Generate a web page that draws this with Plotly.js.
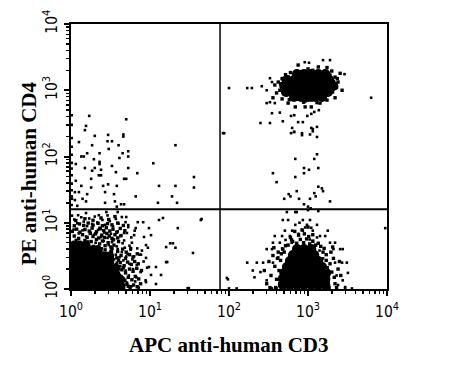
<!DOCTYPE html>
<html><head><meta charset="utf-8">
<script src="https://cdn.plot.ly/plotly-3.0.1.min.js"></script>
<style>html,body{margin:0;padding:0;background:#fff;}#chart{width:449px;height:377px;}</style>
</head><body><div id="chart"></div>
<script>
// ---- axis ticks ----
const decadeVals = [1, 10, 100, 1000, 10000];
const decadeText = ['10<sup>0</sup>', '10<sup>1</sup>', '10<sup>2</sup>', '10<sup>3</sup>', '10<sup>4</sup>'];
const minorVals = [2,3,4,5,6,7,8,9,20,30,40,50,60,70,80,90,200,300,400,500,600,700,800,900,2000,3000,4000,5000,6000,7000,8000,9000];
const xTitle = 'APC anti-human CD3';
const yTitle = 'PE anti-human CD4';

// ---- quadrant gates ----
const gateCD3 = 77;   // APC CD3 threshold
const gateCD4 = 16;   // PE CD4 threshold

// ---- dense cores (CD3, CD4) ----
const lowerLeftCore = [
 [1.09,1.11],[1.3,1.11],[1.55,1.11],[1.85,1.11],[2.2,1.11],[2.6,1.11],[3.1,1.11],[3.7,1.11],[4.3,1.11],
 [1.09,1.37],[1.3,1.37],[1.55,1.37],[1.85,1.37],[2.2,1.37],[2.6,1.37],[3.1,1.37],[3.7,1.37],[4.3,1.37],
 [1.09,1.68],[1.3,1.68],[1.55,1.68],[1.85,1.68],[2.2,1.68],[2.6,1.68],[3.1,1.68],[3.7,1.68],
 [1.09,2.07],[1.3,2.07],[1.55,2.07],[1.85,2.07],[2.2,2.07],[2.6,2.07],[3.1,2.07],[3.7,2.07],
 [1.09,2.55],[1.3,2.55],[1.55,2.55],[1.85,2.55],[2.2,2.55],[2.6,2.55],[3.1,2.55],
 [1.09,3.15],[1.3,3.15],[1.55,3.15],[1.85,3.15],[2.2,3.15],[2.6,3.15],[3.1,3.15],
 [1.09,3.9],[1.3,3.9],[1.55,3.9],[1.85,3.9],[2.2,3.9],
 [1.09,4.6],[1.3,4.6],[1.55,4.6]
];
const lowerRightCore = [
 [480,1.15],[590,1.15],[725,1.15],[890,1.15],[1100,1.15],[1350,1.15],[1660,1.15],
 [480,1.42],[590,1.42],[725,1.42],[890,1.42],[1100,1.42],[1350,1.42],[1660,1.42],
 [500,1.74],[600,1.74],[740,1.74],[910,1.74],[1120,1.74],[1380,1.74],[1700,1.74],
 [540,2.15],[665,2.15],[815,2.15],[1000,2.15],[1230,2.15],[1510,2.15],
 [590,2.65],[725,2.65],[890,2.65],[1100,2.65],[1350,2.65],
 [645,3.26],[790,3.26],[970,3.26],[1200,3.26],
 [725,4.0],[890,4.0],[1100,4.0]
];
const upperRightCore = [
 [725,1760],[890,1760],[1100,1760],[1350,1760],[1660,1760],
 [540,1430],[665,1430],[815,1430],[1000,1430],[1230,1430],[1510,1430],[1860,1430],
 [500,1160],[600,1160],[740,1160],[910,1160],[1120,1160],[1380,1160],[1700,1160],[2090,1160],
 [525,940],[645,940],[790,940],[970,940],[1200,940],[1460,940],[1790,940],
 [665,790],[815,790],[1000,790],[1230,790],[1510,790]
];

// ---- speckled rims around the cores (CD3, CD4) ----
const lowerLeftRim = [
 [1.05,4.6],[1.2,5.1],[1.35,4.5],[1.5,5.4],[1.65,4.7],[1.8,5.2],[1.95,4.4],[2.1,5.6],[2.3,4.8],[2.5,5.3],[2.7,4.5],[2.95,5.0],[3.2,4.3],[3.4,5.5],
 [1.1,6.3],[1.25,5.8],[1.4,6.6],[1.6,6.0],[1.75,6.9],[1.9,6.2],[2.05,6.8],[2.25,5.9],[2.45,6.5],[2.65,6.0],[2.85,6.9],[3.05,6.3],[3.3,5.8],[3.6,6.6],[3.9,5.9],[4.3,6.4],
 [1.04,7.4],[1.18,8.0],[1.3,7.2],[1.5,7.9],[1.7,7.5],[1.85,8.3],[2.1,7.3],[2.35,8.1],[2.6,7.6],[2.8,8.4],[3.1,7.5],[3.4,8.0],[3.8,7.2],[4.2,8.2],[4.8,7.6],
 [1.1,9.0],[1.28,9.6],[1.45,9.1],[1.65,9.9],[1.9,9.2],[2.2,9.8],[2.5,9.0],[2.9,9.7],[3.3,9.3],[3.9,9.9],[4.6,9.1],
 [1.15,10.8],[1.5,11.5],[1.9,10.9],[2.4,11.8],[3.0,11.2],[3.6,12.4],
 [3.7,1.05],[4.1,1.2],[4.6,1.08],[5.1,1.18],[5.6,1.04],[6.2,1.15],[6.9,1.08],[7.6,1.2],
 [3.8,1.4],[4.3,1.55],[4.8,1.35],[5.3,1.5],[5.9,1.38],[6.5,1.55],[7.2,1.42],
 [3.9,1.8],[4.4,1.95],[4.9,1.75],[5.5,2.0],[6.1,1.85],[6.8,2.05],[7.8,1.9],
 [3.7,2.3],[4.2,2.5],[4.7,2.25],[5.2,2.55],[5.8,2.35],[6.4,2.6],[7.1,2.4],
 [3.8,2.95],[4.3,3.2],[4.9,2.9],[5.5,3.3],[6.1,3.05],[6.9,3.4],
 [3.2,3.7],[3.9,3.7],[4.5,4.0],[5.0,3.6],[5.7,4.1],[3.3,4.1],[2.7,3.9],[2.4,3.6],[2.9,3.3],
 [2.0,4.0],[2.2,4.3],[1.6,4.2],[3.5,4.6],[4.0,5.2],[4.4,1.3],[5.3,1.1],[4.1,1.6],[4.6,2.1],[3.6,2.0],[4.0,2.7]
];
const lowerRightRim = [
 [300,1.2],[340,1.6],[380,2.2],[320,2.6],[360,3.2],[400,1.4],[410,2.9],[280,1.9],[370,4.2],[420,3.6],
 [390,1.05],[330,1.05],[430,1.9],[450,2.7],[460,3.4],[440,1.2],[480,4.0],[500,3.6],[520,4.5],
 [1800,1.3],[2000,1.8],[2200,1.2],[1900,2.4],[2100,2.9],[1700,3.3],[2400,2.0],[2600,1.6],[1600,4.1],[1950,3.6],
 [2300,1.05],[1850,1.05],[2500,2.6],[2050,4.3],[1750,2.1],[2150,1.5],[1700,2.7],[1550,3.6],[1450,4.4],[1350,4.9],
 [560,4.6],[640,5.2],[720,4.9],[800,5.6],[880,5.0],[960,5.7],[1050,4.8],[1150,5.3],[1250,4.6],
 [600,6.0],[760,6.5],[900,6.8],[1020,6.2],[680,7.4],[840,7.8],[1150,6.6],[1000,8.6],[620,5.5]
];
const upperRightRim = [
 [440,1000],[540,850],[630,770],[750,740],[920,690],[1100,710],[1420,790],[1740,850],[2050,940],[2300,1100],
 [2400,1330],[2200,1580],[1900,1700],[1650,1950],[1300,1900],[1000,2100],[830,1900],[690,1800],[560,1580],[480,1480],
 [420,1330],[380,1200],[400,910],[360,770],[470,740],[560,640],[690,560],[920,560],[1100,560],[1420,640],
 [1740,710],[2200,770],[2700,1000],[2550,1800],[750,2400],[1350,2250],[1740,2200],
 [450,1250],[470,1500],[520,1720],[600,1850],[2100,1350],[2350,1500],[2000,1950],[1150,2000],[880,660],[1300,650],[580,720]
];

// ---- scattered events (CD3, CD4) ----
const lowerLeftDots = [
 [1.03,12.8],[1.1,11.2],[1.2,9.8],[1.35,12.1],[1.45,10.4],[1.6,8.9],[1.7,11.6],[1.85,9.6],[2.0,12.4],[2.15,10.1],
 [2.3,8.4],[2.5,11.0],[2.7,9.3],[2.9,12.9],[3.1,10.6],[3.4,8.8],[3.7,11.4],[4.0,9.7],[4.4,12.2],[4.9,10.2],
 [5.3,8.6],[1.08,7.9],[1.25,6.9],[1.4,7.7],[1.55,6.2],[1.75,7.3],[1.95,6.6],[2.2,7.8],[2.4,6.1],[2.65,7.1],
 [2.9,5.9],[3.2,6.8],[3.5,5.6],[3.9,7.4],[4.2,6.3],[4.7,5.4],[5.1,7.0],[5.8,6.0],[6.4,7.6],[1.15,5.5],
 [1.65,5.2],[2.05,5.0],[2.6,5.3],[3.0,4.6],[3.3,5.1],[3.8,4.4],[4.5,4.9],[1.9,4.3],[2.45,4.1],[5.5,4.5],
 [3.9,4.0],[4.4,3.6],[4.8,4.2],[5.2,3.4],[5.7,3.9],[6.3,3.1],[4.1,3.0],[4.6,2.7],[5.0,3.1],[5.5,2.4],
 [6.0,2.8],[6.8,2.3],[7.4,3.3],[3.8,2.5],[4.2,2.2],[4.9,1.9],[5.4,1.6],[6.1,2.0],[6.7,1.5],[7.6,1.8],
 [8.3,2.6],[3.9,1.7],[4.5,1.4],[5.1,1.25],[5.8,1.1],[6.5,1.3],[7.2,1.05],[8.8,1.35],[4.0,1.05],[4.7,1.0],
 [3.7,3.3],[3.5,2.8],[3.3,3.7],[2.8,3.5],[6.9,4.1],[7.9,3.8],[9.2,2.1],[5.9,5.0],[4.0,1.2],
 [8.9,4.6],[9.4,4.2],[7.7,3.3],[8.9,2.95],[9.7,2.15],[16,2.55],[11.9,2.15],[10.3,1.63],[13.8,1.63],[8.9,1.27],
 [11.9,1.19],[31,1.03],[16,4.3],[19.5,4.9],[21,4.2],[35,3.5],[5.3,9.2],[6.6,8.3],[9.7,8.3],[22.5,8.3],
 [4.7,7.0],[6.3,6.5],[8.4,6.1],[10.3,6.5],[1.23,13],[1.55,14],[2.25,13],[2.8,14.5],[3.9,14.5],[5.0,12.2],
 [7.0,10.2],[8.2,10.2],[14.6,11.8],[13,11],[44,11],[45,11.4],[16.5,2.55],[30,1.03],[97,1.4],[18,4.9]
];
const upperLeftDots = [
 [1.7,410],[5.0,365],[1.55,290],[1.5,250],[2.0,205],[2.95,212],[4.6,215],[4.6,200],[2.9,170],[3.3,170],
 [1.26,165],[1.85,148],[4.0,148],[21,148],[3.0,130],[5.3,120],[2.3,112],[4.5,112],[1.6,112],[1.35,100],
 [1.45,100],[5.3,100],[1.95,91],[2.3,83],[4.1,95],[11,79],[1.15,77],[2.3,77],[3.3,72],[1.5,67],
 [2.0,67],[5.3,67],[1.85,61],[2.4,63],[6.9,56],[3.7,58],[2.25,52],[2.4,52],[1.8,46],[4.7,46],
 [5.0,46],[36,49],[1.15,43],[2.95,38],[1.35,36],[1.8,34],[2.55,36],[3.8,36],[13,36],[21,36],
 [36,34],[1.12,29],[1.26,29],[2.7,29],[3.5,27],[1.6,27],[6.6,25],[19,25],[1.4,23],[1.03,23],
 [1.12,22],[1.55,21],[2.7,20],[3.6,21],[4.3,19],[4.7,19],[12.6,20],[22,20],[1.2,18],[3.8,17.5],
 [1.02,18.5],[1.02,25],[1.02,31],[1.02,39],[1.02,52],[1.02,66],[1.02,80],[1.02,106],[1.02,140],[1.02,190],
 [1.02,300],[1.02,420]
];
const lowerRightDots = [
 [540,14.5],[690,14.5],[720,14.5],[1000,15.5],[1350,15],[480,11],[560,11],[860,11],[1060,11],[690,9.3],
 [970,9.3],[1300,9.3],[510,7.6],[630,7.6],[860,7.6],[1150,7.6],[1780,7.6],[380,6.3],[470,6.3],[590,6.3],
 [1420,6.3],[1650,6.3],[360,5],[440,5],[1900,5],[2200,5],[300,4],[350,4],[2100,4],[2550,4],
 [2750,4],[225,2.5],[270,2.5],[360,2.5],[2200,2.5],[2700,2.5],[3100,2.5],[170,2.5],[200,1.9],[250,1.8],
 [94,1.47],[210,1.5],[300,1.35],[2300,1.6],[2750,1.35],[3200,1.75],[2400,1.15],[2950,1.07],[100,1.02],[125,1.02],
 [350,1.02],[400,1.02],[2950,1.02],[3600,1.02],[9500,8.3],
 [520,5.5],[760,6.8],[1050,5.6],[1250,4.6],[1400,3.8],[1550,2.9],[470,4.1],[420,3.0],[1300,6.0],[920,8.5],
 [620,5.0],[1150,5.2],[780,10],[1100,8.4]
];
const middleDots = [
 [610,225],[665,235],[840,225],[1150,240],[1300,197],[1300,108],[690,92],[1200,92],[890,67],[1350,67],
 [1030,63],[890,56],[360,56],[400,41],[690,49],[720,30],[1350,35],[1500,33],[1550,30],[1200,28],
 [1250,25],[570,27],[600,25],[770,23],[500,23],[1060,23],[1900,21],[890,19],[1000,17.5],[1080,16.5],
 [87,225],[84,225]
];
const upperRightDots = [
 [100,1080],[170,1080],[195,1080],[260,1150],[330,1520],[350,1330],[300,1000],[910,2650],[1030,2600],[1550,2850],
 [1900,2850],[2900,1750],[6300,770],[300,640],[330,660],[380,640],[350,450],[440,460],[250,320],[330,320],
 [480,340],[610,410],[670,420],[750,330],[860,330],[980,410],[1100,440],[1200,470],[1370,500],[630,270],
 [670,235],[1100,270],[1150,260],[1300,280],[840,210],[1060,215]
];

function xs(a){ return a.map(p => p[0]); }
function ys(a){ return a.map(p => p[1]); }
function pts(a, sym, s){
  return {type:'scatter', mode:'markers', x:xs(a), y:ys(a),
    marker:{symbol:sym, size:s, color:'#000', line:{width:0}}, hoverinfo:'skip', showlegend:false};
}

const data = [
  pts(lowerLeftCore, 'circle', 9), pts(lowerRightCore, 'circle', 10), pts(upperRightCore, 'circle', 10),
  pts(lowerLeftRim, 'square', 3.4), pts(lowerRightRim, 'square', 3.4), pts(upperRightRim, 'square', 3.4),
  pts(lowerLeftDots, 'square', 2.6), pts(upperLeftDots, 'square', 2.6), pts(lowerRightDots, 'square', 2.6),
  pts(middleDots, 'square', 2.6), pts(upperRightDots, 'square', 2.6),
  {type:'scatter', mode:'lines', x:[gateCD3, gateCD3], y:[1, 10000], line:{color:'#000', width:1.5}, hoverinfo:'skip', showlegend:false},
  {type:'scatter', mode:'lines', x:[1, 10000], y:[gateCD4, gateCD4], line:{color:'#000', width:2}, hoverinfo:'skip', showlegend:false}
];

const tickFont = {family:'"Liberation Sans Narrow", "Arial Narrow", "DejaVu Sans Condensed", "Liberation Sans", sans-serif', size:15.5, color:'#000'};
const titleFont = {family:'"Liberation Serif", "Times New Roman", serif', size:21, color:'#000'};

function axis(angle, standoff){
  return {
    type:'log', range:[0,4], autorange:false,
    tickmode:'array', tickvals:decadeVals, ticktext:decadeText, tickangle:angle,
    ticks:'outside', ticklen:5, tickwidth:2, tickcolor:'#000', ticklabelstandoff:standoff,
    minor:{tickmode:'array', tickvals:minorVals, ticks:'outside', ticklen:3, tickwidth:1.5, tickcolor:'#000', showgrid:false},
    showline:true, linewidth:2, linecolor:'#000', mirror:true,
    showgrid:false, zeroline:false, tickfont:tickFont
  };
}

const layout = {
  width:449, height:377,
  margin:{l:71, r:62, t:24, b:88},
  paper_bgcolor:'#fff', plot_bgcolor:'#fff',
  xaxis:axis(0, 2),
  yaxis:axis(-90, 1),
  showlegend:false,
  annotations:[
    {text:'<b>'+xTitle+'</b>', xref:'paper', yref:'paper', x:0.5, y:-0.211, xanchor:'center', yanchor:'middle', showarrow:false, font:titleFont},
    {text:'<b>'+yTitle+'</b>', xref:'paper', yref:'paper', x:-0.132, y:0.438, xanchor:'center', yanchor:'middle', textangle:-90, showarrow:false, font:titleFont}
  ]
};

Plotly.newPlot('chart', data, layout, {staticPlot:true, displayModeBar:false});
</script>
</body></html>
